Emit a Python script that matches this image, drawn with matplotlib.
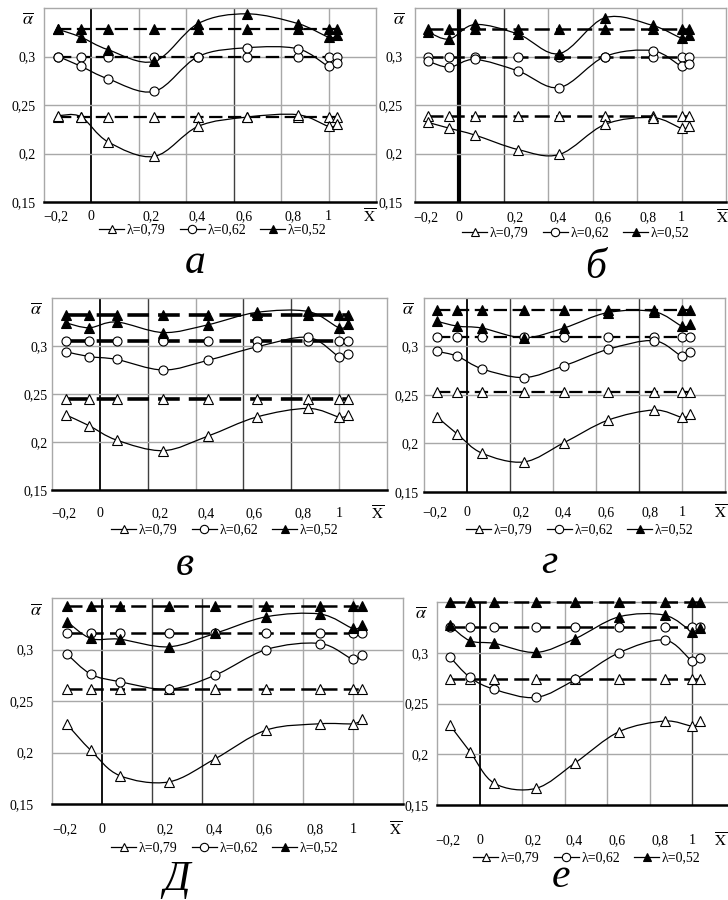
import numpy as np
import matplotlib.pyplot as plt
from matplotlib.path import Path
from matplotlib.patches import PathPatch
from matplotlib.lines import Line2D

plt.rcParams['font.family'] = ['Liberation Serif', 'DejaVu Serif']
plt.rcParams['mathtext.fontset'] = 'stix'

# measurement points along the relative length
x_pts = [-0.14, -0.045, 0.07, 0.265, 0.45, 0.655, 0.87, 1.0, 1.035]
x_ticks = [-0.15, 0.0, 0.25, 0.445, 0.645, 0.85, 1.0]
x_labels = ['−0,2', '0', '0,2', '0,4', '0,6', '0,8', '1']
y_ticks = [0.15, 0.2, 0.25, 0.3]
y_labels = ['0,15', '0,2', '0,25', '0,3']
series = ['λ=0,79', 'λ=0,62', 'λ=0,52']
letters = ['а', 'б', 'в', 'г', 'Д', 'е']

# dashed levels (mean) for λ=0.79, 0.62, 0.52 in each panel
mean_a = [0.238, 0.300, 0.328]
mean_b = [0.239, 0.300, 0.328]
mean_v = [0.245, 0.3047, 0.3324]
mean_g = [0.2528, 0.3103, 0.3372]
mean_d = [0.262, 0.3156, 0.3419]
mean_e = [0.2737, 0.3249, 0.350]

# measured curves
a_079 = [0.239, 0.238, 0.212, 0.197, 0.228, 0.2375, 0.240, 0.228, 0.230]
a_062 = [0.300, 0.290, 0.277, 0.264, 0.300, 0.309, 0.308, 0.290, 0.293]
a_052 = [0.328, 0.320, 0.307, 0.295, 0.334, 0.344, 0.334, 0.320, 0.322]

b_079 = [0.232, 0.226, 0.219, 0.204, 0.199, 0.230, 0.237, 0.226, 0.228]
b_062 = [0.295, 0.289, 0.297, 0.285, 0.268, 0.300, 0.306, 0.290, 0.292]
b_052 = [0.325, 0.318, 0.333, 0.323, 0.303, 0.340, 0.332, 0.319, 0.322]

v_079 = [0.228, 0.217, 0.202, 0.191, 0.206, 0.226, 0.235, 0.226, 0.228]
v_062 = [0.294, 0.289, 0.286, 0.275, 0.285, 0.299, 0.309, 0.289, 0.292]
v_052 = [0.324, 0.319, 0.325, 0.314, 0.322, 0.335, 0.336, 0.319, 0.323]

g_079 = [0.2276, 0.2097, 0.190, 0.181, 0.2007, 0.224, 0.2345, 0.227, 0.230]
g_062 = [0.295, 0.290, 0.277, 0.268, 0.280, 0.297, 0.306, 0.290, 0.294]
g_052 = [0.326, 0.321, 0.319, 0.309, 0.319, 0.335, 0.336, 0.321, 0.323]

d_079 = [0.2273, 0.202, 0.1776, 0.1714, 0.1938, 0.2218, 0.2279, 0.2279, 0.2321]
d_062 = [0.2955, 0.276, 0.2688, 0.2614, 0.275, 0.300, 0.3058, 0.2906, 0.2951]
d_052 = [0.327, 0.3107, 0.310, 0.3026, 0.3156, 0.3318, 0.3344, 0.3205, 0.3237]

e_079 = [0.2288, 0.2025, 0.1713, 0.1664, 0.1917, 0.2222, 0.2327, 0.2278, 0.233]
e_062 = [0.296, 0.2757, 0.2639, 0.256, 0.2737, 0.300, 0.3125, 0.2918, 0.2951]
e_052 = [0.327, 0.3118, 0.3092, 0.3003, 0.314, 0.3354, 0.337, 0.3207, 0.324]

means = [mean_a, mean_b, mean_v, mean_g, mean_d, mean_e]
curves = [[a_079, a_062, a_052], [b_079, b_062, b_052], [v_079, v_062, v_052],
          [g_079, g_062, g_052], [d_079, d_062, d_052], [e_079, e_062, e_052]]

W, H = 728, 900
# layout in pixels: plot box (left, right, top, bottom), label pads, legend and letter centres
layout = [
    dict(box=(44, 376, 8, 202), ypad=8, xpad=8, xbar=1.173, leg=(213, 230), let=(195, 263), dark=[0.6], zero_lw=1.3, dash_lw=1.6),
    dict(box=(415, 726, 8, 202), ypad=12, xpad=9, xbar=1.185, leg=(576, 233), let=(596, 268), dark=[0.2], zero_lw=3.0, dash_lw=1.8),
    dict(box=(52, 387, 298, 490), ypad=4, xpad=17, xbar=1.16, leg=(225, 530), let=(185, 565), dark=[0.2, 0.6, 0.8], zero_lw=1.3, dash_lw=2.6),
    dict(box=(424, 725, 298, 492), ypad=5, xpad=14, xbar=1.18, leg=(580, 530), let=(549, 563), dark=[0.2, 0.8], zero_lw=1.3, dash_lw=1.6),
    dict(box=(52, 403, 598, 804), ypad=18, xpad=19, xbar=1.171, leg=(225, 848), let=(177, 880), dark=[0.2, 0.4], zero_lw=1.3, dash_lw=1.8),
    dict(box=(437, 735, 602, 805), ypad=8, xpad=29, xbar=1.13, leg=(587, 858), let=(561, 877), dark=[1.0], zero_lw=1.3, dash_lw=1.8),
]

markers = [dict(marker='^', mfc='white'), dict(marker='o', mfc='white'), dict(marker='^', mfc='black')]


def smooth_path(xs, ys):
    # smoothed line through the points (cubic Bezier, Catmull-Rom tangents)
    p = np.column_stack([xs, ys])
    ext = np.vstack([p[0], p, p[-1]])
    verts = [p[0]]
    codes = [Path.MOVETO]
    for i in range(len(p) - 1):
        p0, p1, p2, p3 = ext[i], ext[i + 1], ext[i + 2], ext[i + 3]
        verts += [p1 + (p2 - p0) / 6, p2 - (p3 - p1) / 6, p2]
        codes += [Path.CURVE4] * 3
    return Path(verts, codes)


fig = plt.figure(figsize=(W / 100, H / 100), dpi=100)

for k in range(6):
    lo = layout[k]
    l, r, t, b = lo['box']
    ax = fig.add_axes([l / W, 1 - b / H, (r - l) / W, (b - t) / H])
    ax.set_xlim(-0.2, 1.2)
    ax.set_ylim(0.15, 0.35)

    # grid
    for gx in [0, 0.2, 0.4, 0.6, 0.8, 1.0]:
        if gx == 0:
            ax.axvline(gx, color='black', lw=lo['zero_lw'], zorder=1)
        elif gx in lo['dark']:
            ax.axvline(gx, color='#404040', lw=1.0, zorder=1)
        else:
            ax.axvline(gx, color='#a8a8a8', lw=1.0, zorder=1)
    for gy in [0.2, 0.25, 0.3]:
        ax.axhline(gy, color='#a8a8a8', lw=1.0, zorder=1)
    for s in ['top', 'left', 'right']:
        ax.spines[s].set_color('#a8a8a8')
        ax.spines[s].set_linewidth(1.0)
    ax.spines['bottom'].set_color('black')
    ax.spines['bottom'].set_linewidth(1.8)

    ax.set_xticks(x_ticks, x_labels)
    ax.set_yticks(y_ticks, y_labels)
    ax.tick_params(axis='x', length=0, pad=lo['xpad'] * 0.72, labelsize=10)
    ax.tick_params(axis='y', length=0, pad=lo['ypad'] * 0.72, labelsize=10)

    for j in range(3):
        st = markers[j]
        ax.plot(x_pts, [means[k][j]] * len(x_pts), color='black', lw=lo['dash_lw'],
                dashes=(6, 2.5), marker=st['marker'], mfc=st['mfc'], mec='black',
                ms=6.5, mew=0.8, zorder=3, clip_on=False)
        ax.add_patch(PathPatch(smooth_path(x_pts, curves[k][j]), fill=False,
                               ec='black', lw=0.9, zorder=2))
        ax.plot(x_pts, curves[k][j], ls='none', marker=st['marker'], mfc=st['mfc'],
                mec='black', ms=6.5, mew=0.8, zorder=4, clip_on=False)

    ax.annotate(r'$\overline{\alpha}$', xy=(0, 0.94), xycoords='axes fraction',
                xytext=(-16, 0), textcoords='offset pixels', ha='center', va='center',
                fontsize=13)
    ax.annotate(r'$\overline{\mathrm{X}}$', xy=(lo['xbar'], 0), xycoords=('data', 'axes fraction'),
                xytext=(0, -(lo['xpad'] + 7)), textcoords='offset pixels',
                ha='center', va='center', fontsize=11, annotation_clip=False)

    handles = [Line2D([], [], color='black', lw=0.9, marker=markers[j]['marker'],
                      mfc=markers[j]['mfc'], mec='black', ms=6, mew=0.8) for j in range(3)]
    ax.legend(handles, series, loc='center', ncol=3, frameon=False, fontsize=10,
              handlelength=1.8, handletextpad=0.2, columnspacing=1.0,
              bbox_to_anchor=(lo['leg'][0] / W, 1 - lo['leg'][1] / H),
              bbox_transform=fig.transFigure)

    fig.text(lo['let'][0] / W, 1 - lo['let'][1] / H, letters[k], fontsize=30,
             style='italic', ha='center', va='center')

fig.savefig('out.png', dpi=100, facecolor='white')
